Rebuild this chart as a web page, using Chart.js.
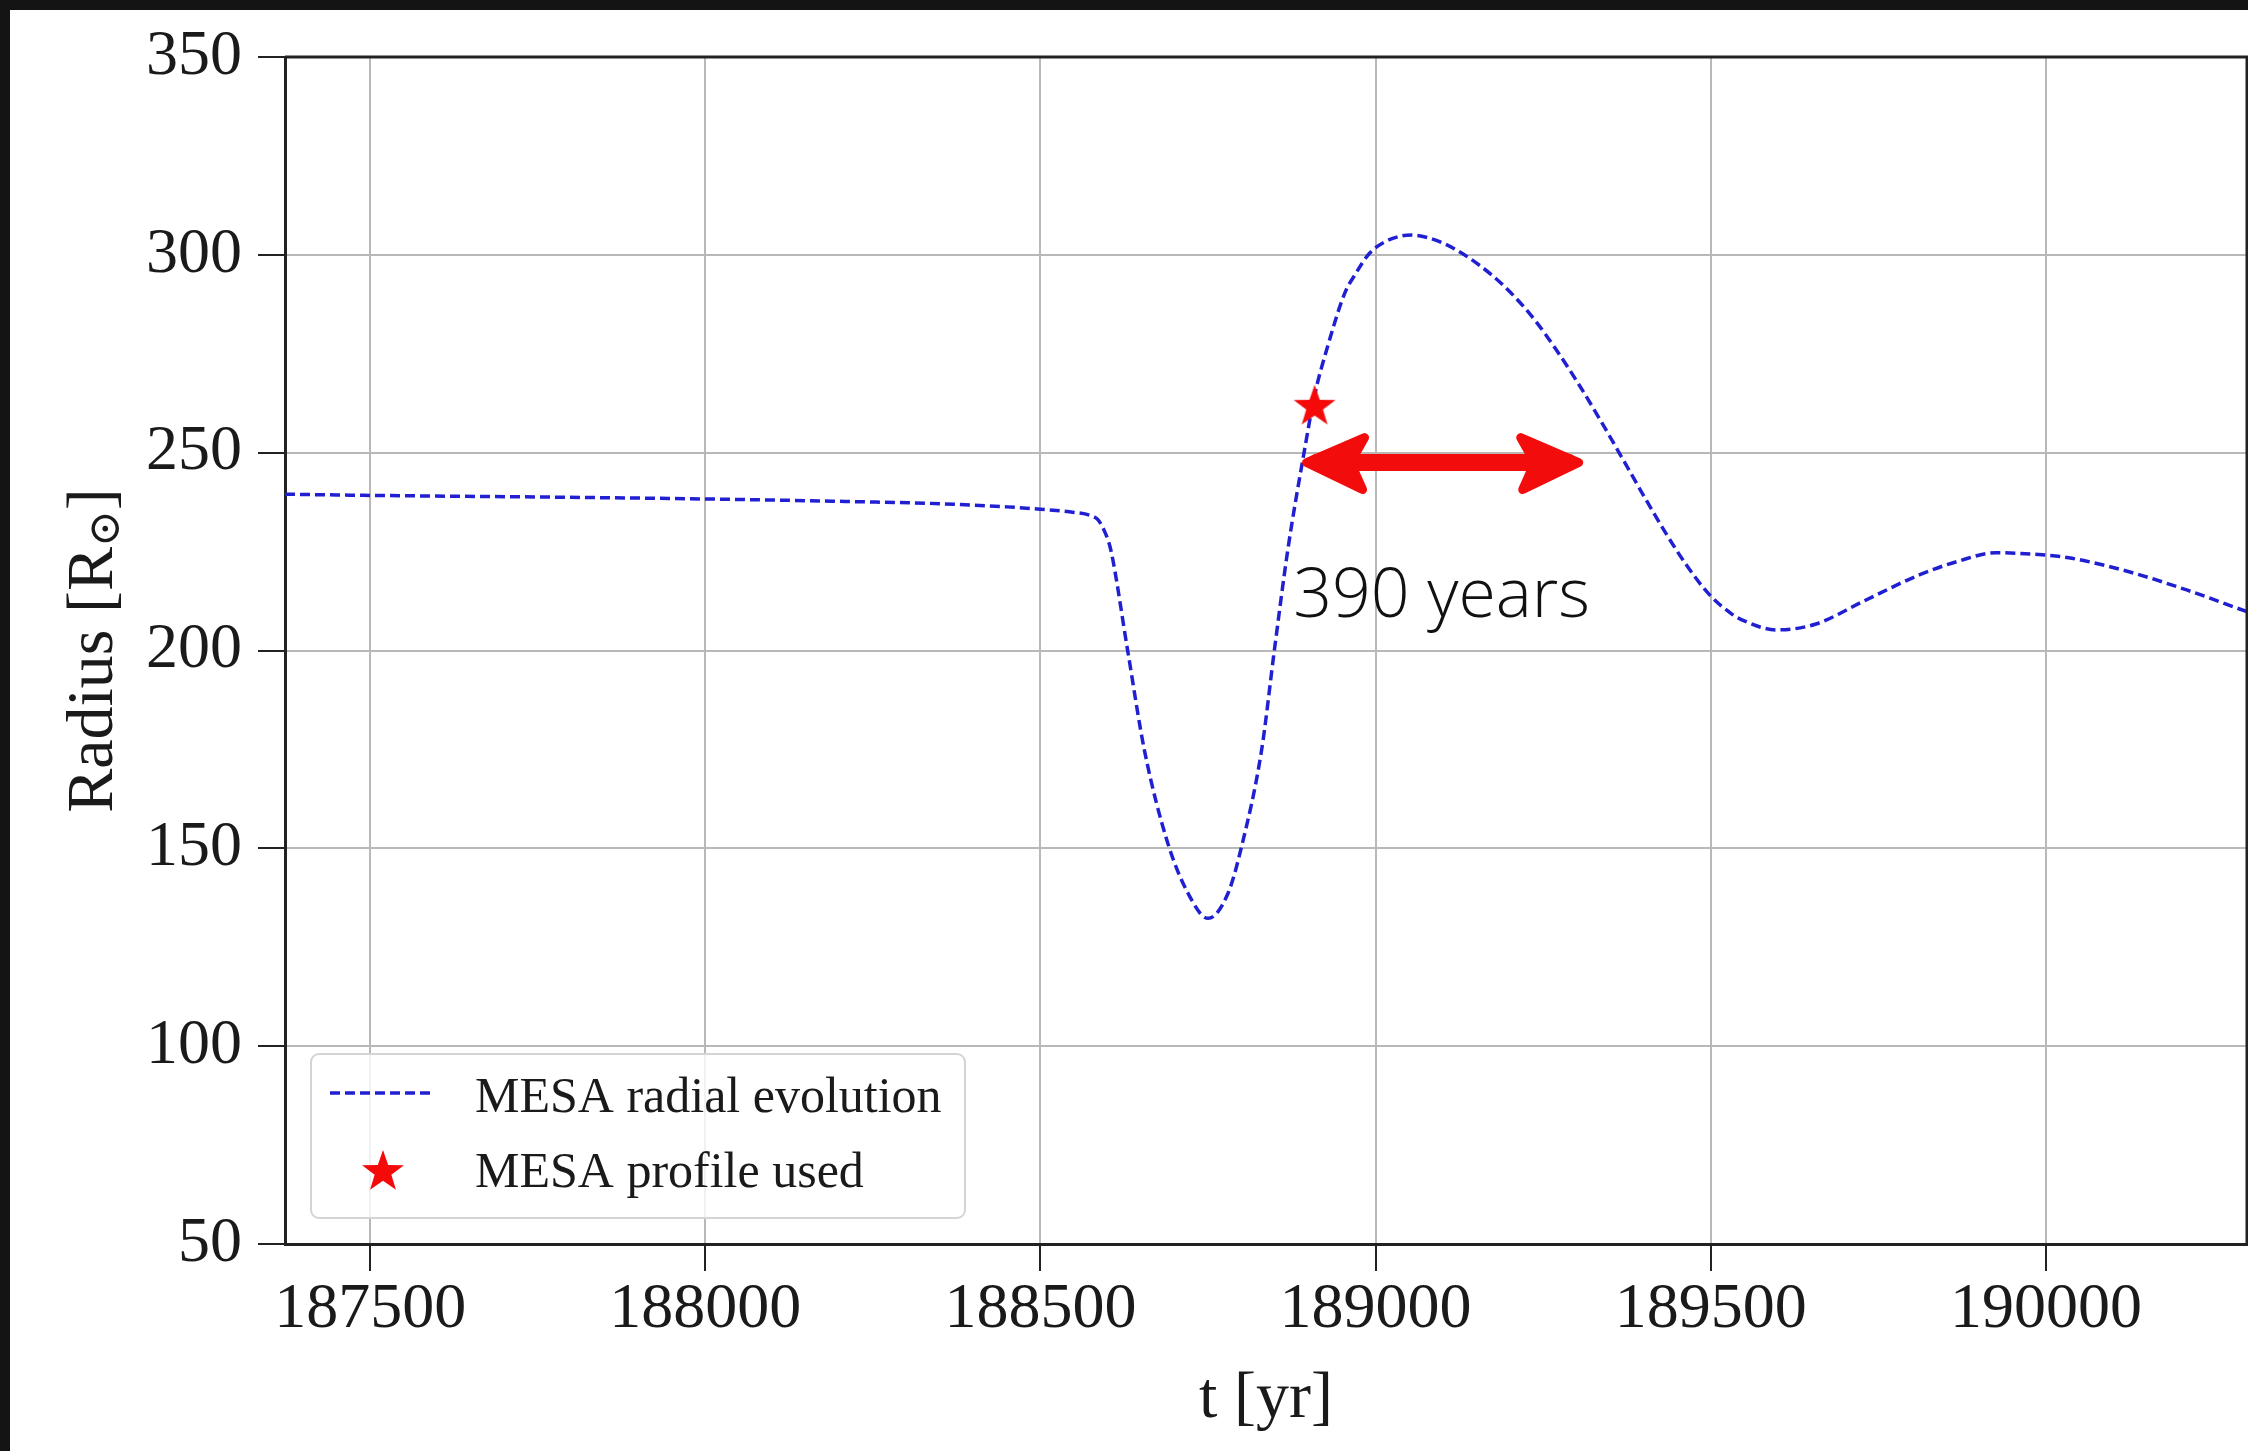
<!DOCTYPE html>
<html>
<head>
<meta charset="utf-8">
<script src="https://cdn.jsdelivr.net/npm/chart.js@4.4.1/dist/chart.umd.min.js"></script>
<style>
  html, body { margin: 0; padding: 0; background: #141414; }
  #wrap { position: absolute; left: 10px; top: 10px; width: 2238px; height: 1441px; background: #fff; }
</style>
</head>
<body>
<div id="wrap"><canvas id="radiusChart" width="2238" height="1441"></canvas></div>
<script>
// MESA radius track
const tYears = [187373, 187500, 187750, 188000, 188200, 188350, 188450, 188500, 188550, 188575,
    188586, 188596, 188605, 188630, 188655, 188690, 188720, 188750, 188780, 188800,
    188830, 188849, 188869, 188894, 188909, 188927, 188954, 188969, 188991, 189014,
    189039, 189054, 189079, 189103, 189118, 189138, 189174, 189208, 189238, 189270,
    189303, 189335, 189367, 189400, 189432, 189465, 189497, 189530, 189551, 189598,
    189657, 189726, 189811, 189868, 189925, 190000, 190039, 190124, 190210, 190300];
const radius = [239.5, 239.2, 238.8, 238.3, 237.7, 237.1, 236.3, 235.7, 234.9, 234.1,
    233.0, 230.0, 225.4, 200.1, 174.9, 151.3, 138.7, 132.3, 138.7, 150.4,
    174.9, 200.1, 225.4, 250.7, 264.5, 276.0, 290.3, 294.9, 300.4, 303.3,
    304.8, 305.0, 304.3, 302.8, 301.5, 299.4, 294.8, 289.3, 283.4, 275.9,
    267.3, 258.3, 248.9, 239.1, 229.9, 221.3, 214.3, 209.4, 207.4, 205.2,
    206.7, 212.3, 219.1, 222.5, 224.7, 224.1, 223.3, 219.9, 215.3, 209.8];

const profileT = [188909];
const profileR = [262.1];

const xTicks = [187500, 188000, 188500, 189000, 189500, 190000];
const yTicks = [50, 100, 150, 200, 250, 300, 350];
const xRange = [187373, 190300];
const yRange = [50, 350];

// "390 years" annotation
const arrowFrom = 188897, arrowTo = 189303, arrowR = 247.5;
const noteText = '390 years';
const noteT = 188877, noteR = 208.5;

const serif = '"Liberation Serif", "DejaVu Serif", serif';
const ink = '#1a1a1a';

function makeStar(size, color) {
    const c = document.createElement('canvas');
    c.width = c.height = size;
    const g = c.getContext('2d');
    const R = size / 2, r = R * 0.4;
    g.beginPath();
    for (let i = 0; i < 10; i++) {
        const a = -Math.PI / 2 + i * Math.PI / 5;
        const rr = i % 2 ? r : R;
        g.lineTo(R + rr * Math.cos(a), R + 2 + rr * Math.sin(a));
    }
    g.closePath();
    g.fillStyle = color;
    g.fill();
    return c;
}
const starImg = makeStar(44, '#f50a0a');

const extras = {
    id: 'extras',
    afterDatasetsDraw(chart) {
        const { ctx, chartArea: a, scales: { x, y } } = chart;
        ctx.save();

        // top and right spines
        ctx.strokeStyle = '#222';
        ctx.lineWidth = 3;
        ctx.beginPath();
        ctx.moveTo(a.left, a.top);
        ctx.lineTo(a.right, a.top);
        ctx.lineTo(a.right, a.bottom);
        ctx.stroke();

        // double arrow
        const x0 = x.getPixelForValue(arrowFrom), x1 = x.getPixelForValue(arrowTo);
        const ay = y.getPixelForValue(arrowR);
        ctx.strokeStyle = ctx.fillStyle = '#f20c0c';
        ctx.lineCap = 'round';
        ctx.lineJoin = 'round';
        ctx.lineWidth = 17;
        ctx.beginPath();
        ctx.moveTo(x0 + 10, ay);
        ctx.lineTo(x1 - 10, ay);
        ctx.stroke();
        ctx.lineWidth = 9;
        [[x0, 1], [x1, -1]].forEach(([tx, d]) => {
            ctx.beginPath();
            ctx.moveTo(tx, ay);
            ctx.lineTo(tx + d * 58, ay - 25);
            ctx.lineTo(tx + d * 44, ay);
            ctx.lineTo(tx + d * 56, ay + 27);
            ctx.closePath();
            ctx.fill();
            ctx.stroke();
        });

        // note
        ctx.fillStyle = '#111';
        ctx.font = '300 68px "Open Sans", sans-serif';
        ctx.textBaseline = 'alphabetic';
        ctx.textAlign = 'left';
        ctx.fillText(noteText, x.getPixelForValue(noteT), y.getPixelForValue(noteR));

        // legend
        const ds = chart.data.datasets;
        const bx = a.left + 26, by = a.bottom - 190;
        ctx.fillStyle = 'rgba(255,255,255,0.8)';
        ctx.strokeStyle = '#d4d4d4';
        ctx.lineWidth = 2;
        ctx.beginPath();
        ctx.roundRect(bx, by, 654, 164, 8);
        ctx.fill();
        ctx.stroke();

        ctx.strokeStyle = ds[0].borderColor;
        ctx.lineWidth = ds[0].borderWidth;
        ctx.lineCap = 'butt';
        ctx.setLineDash(ds[0].borderDash);
        ctx.beginPath();
        ctx.moveTo(a.left + 45, a.bottom - 151);
        ctx.lineTo(a.left + 149, a.bottom - 151);
        ctx.stroke();
        ctx.setLineDash([]);
        ctx.drawImage(starImg, a.left + 98 - 22, a.bottom - 74 - 22);

        ctx.fillStyle = ink;
        ctx.font = '50px ' + serif;
        ctx.fillText(ds[0].label, a.left + 190, a.bottom - 132);
        ctx.fillText(ds[1].label, a.left + 190, a.bottom - 57);

        // y title with subscript sun symbol
        const parts = [['Radius [R', 66, 0], ['\u2299', 44, 12], [']', 66, 0]];
        const widths = parts.map(([t, s]) => { ctx.font = s + 'px ' + serif; return ctx.measureText(t).width; });
        const total = widths.reduce((p, w) => p + w, 0);
        ctx.translate(85, (a.top + a.bottom) / 2);
        ctx.rotate(-Math.PI / 2);
        ctx.textBaseline = 'middle';
        let px = -total / 2;
        parts.forEach(([t, s, dy], i) => {
            ctx.font = s + 'px ' + serif;
            ctx.fillText(t, px, dy);
            px += widths[i];
        });

        ctx.restore();
    }
};

const tickFont = { family: serif, size: 64, lineHeight: 0.95 };
const titleFont = { family: serif, size: 66 };

new Chart(document.getElementById('radiusChart'), {
    type: 'line',
    data: {
        datasets: [{
            label: 'MESA radial evolution',
            data: tYears.map((t, i) => ({ x: t, y: radius[i] })),
            borderColor: '#2020d2',
            borderWidth: 3.5,
            borderDash: [10, 5],
            pointRadius: 0,
            cubicInterpolationMode: 'monotone',
            fill: false,
            order: 1
        }, {
            label: 'MESA profile used',
            data: profileT.map((t, i) => ({ x: t, y: profileR[i] })),
            showLine: false,
            pointStyle: starImg,
            pointRadius: 20,
            order: 0
        }]
    },
    options: {
        responsive: false,
        animation: false,
        layout: { autoPadding: false, padding: { top: 47, right: 1, left: 0, bottom: 0 } },
        plugins: { legend: { display: false }, tooltip: { enabled: false } },
        scales: {
            x: {
                type: 'linear',
                min: xRange[0],
                max: xRange[1],
                afterBuildTicks: s => { s.ticks = xTicks.map(v => ({ value: v })); },
                afterFit: s => { s.height = 207; s.paddingLeft = 0; s.paddingRight = 0; },
                grid: { color: '#b8b8b8', lineWidth: 2, tickColor: '#222', tickLength: 27, tickWidth: 2 },
                border: { color: '#222', width: 3 },
                ticks: { font: tickFont, color: ink, padding: 9, maxRotation: 0, autoSkip: false, callback: v => String(v) },
                title: { display: true, text: 't [yr]', font: titleFont, color: ink, padding: { top: 0, bottom: 12 } }
            },
            y: {
                min: yRange[0],
                max: yRange[1],
                afterBuildTicks: s => { s.ticks = yTicks.map(v => ({ value: v })); },
                afterFit: s => { s.width = 275; s.paddingTop = 0; s.paddingBottom = 0; },
                grid: { color: '#b8b8b8', lineWidth: 2, tickColor: '#222', tickLength: 27, tickWidth: 2 },
                border: { color: '#222', width: 3 },
                ticks: { font: tickFont, color: ink, padding: 16, autoSkip: false, callback: v => String(v) },
                title: { display: false }
            }
        }
    },
    plugins: [extras]
});
</script>
</body>
</html>
